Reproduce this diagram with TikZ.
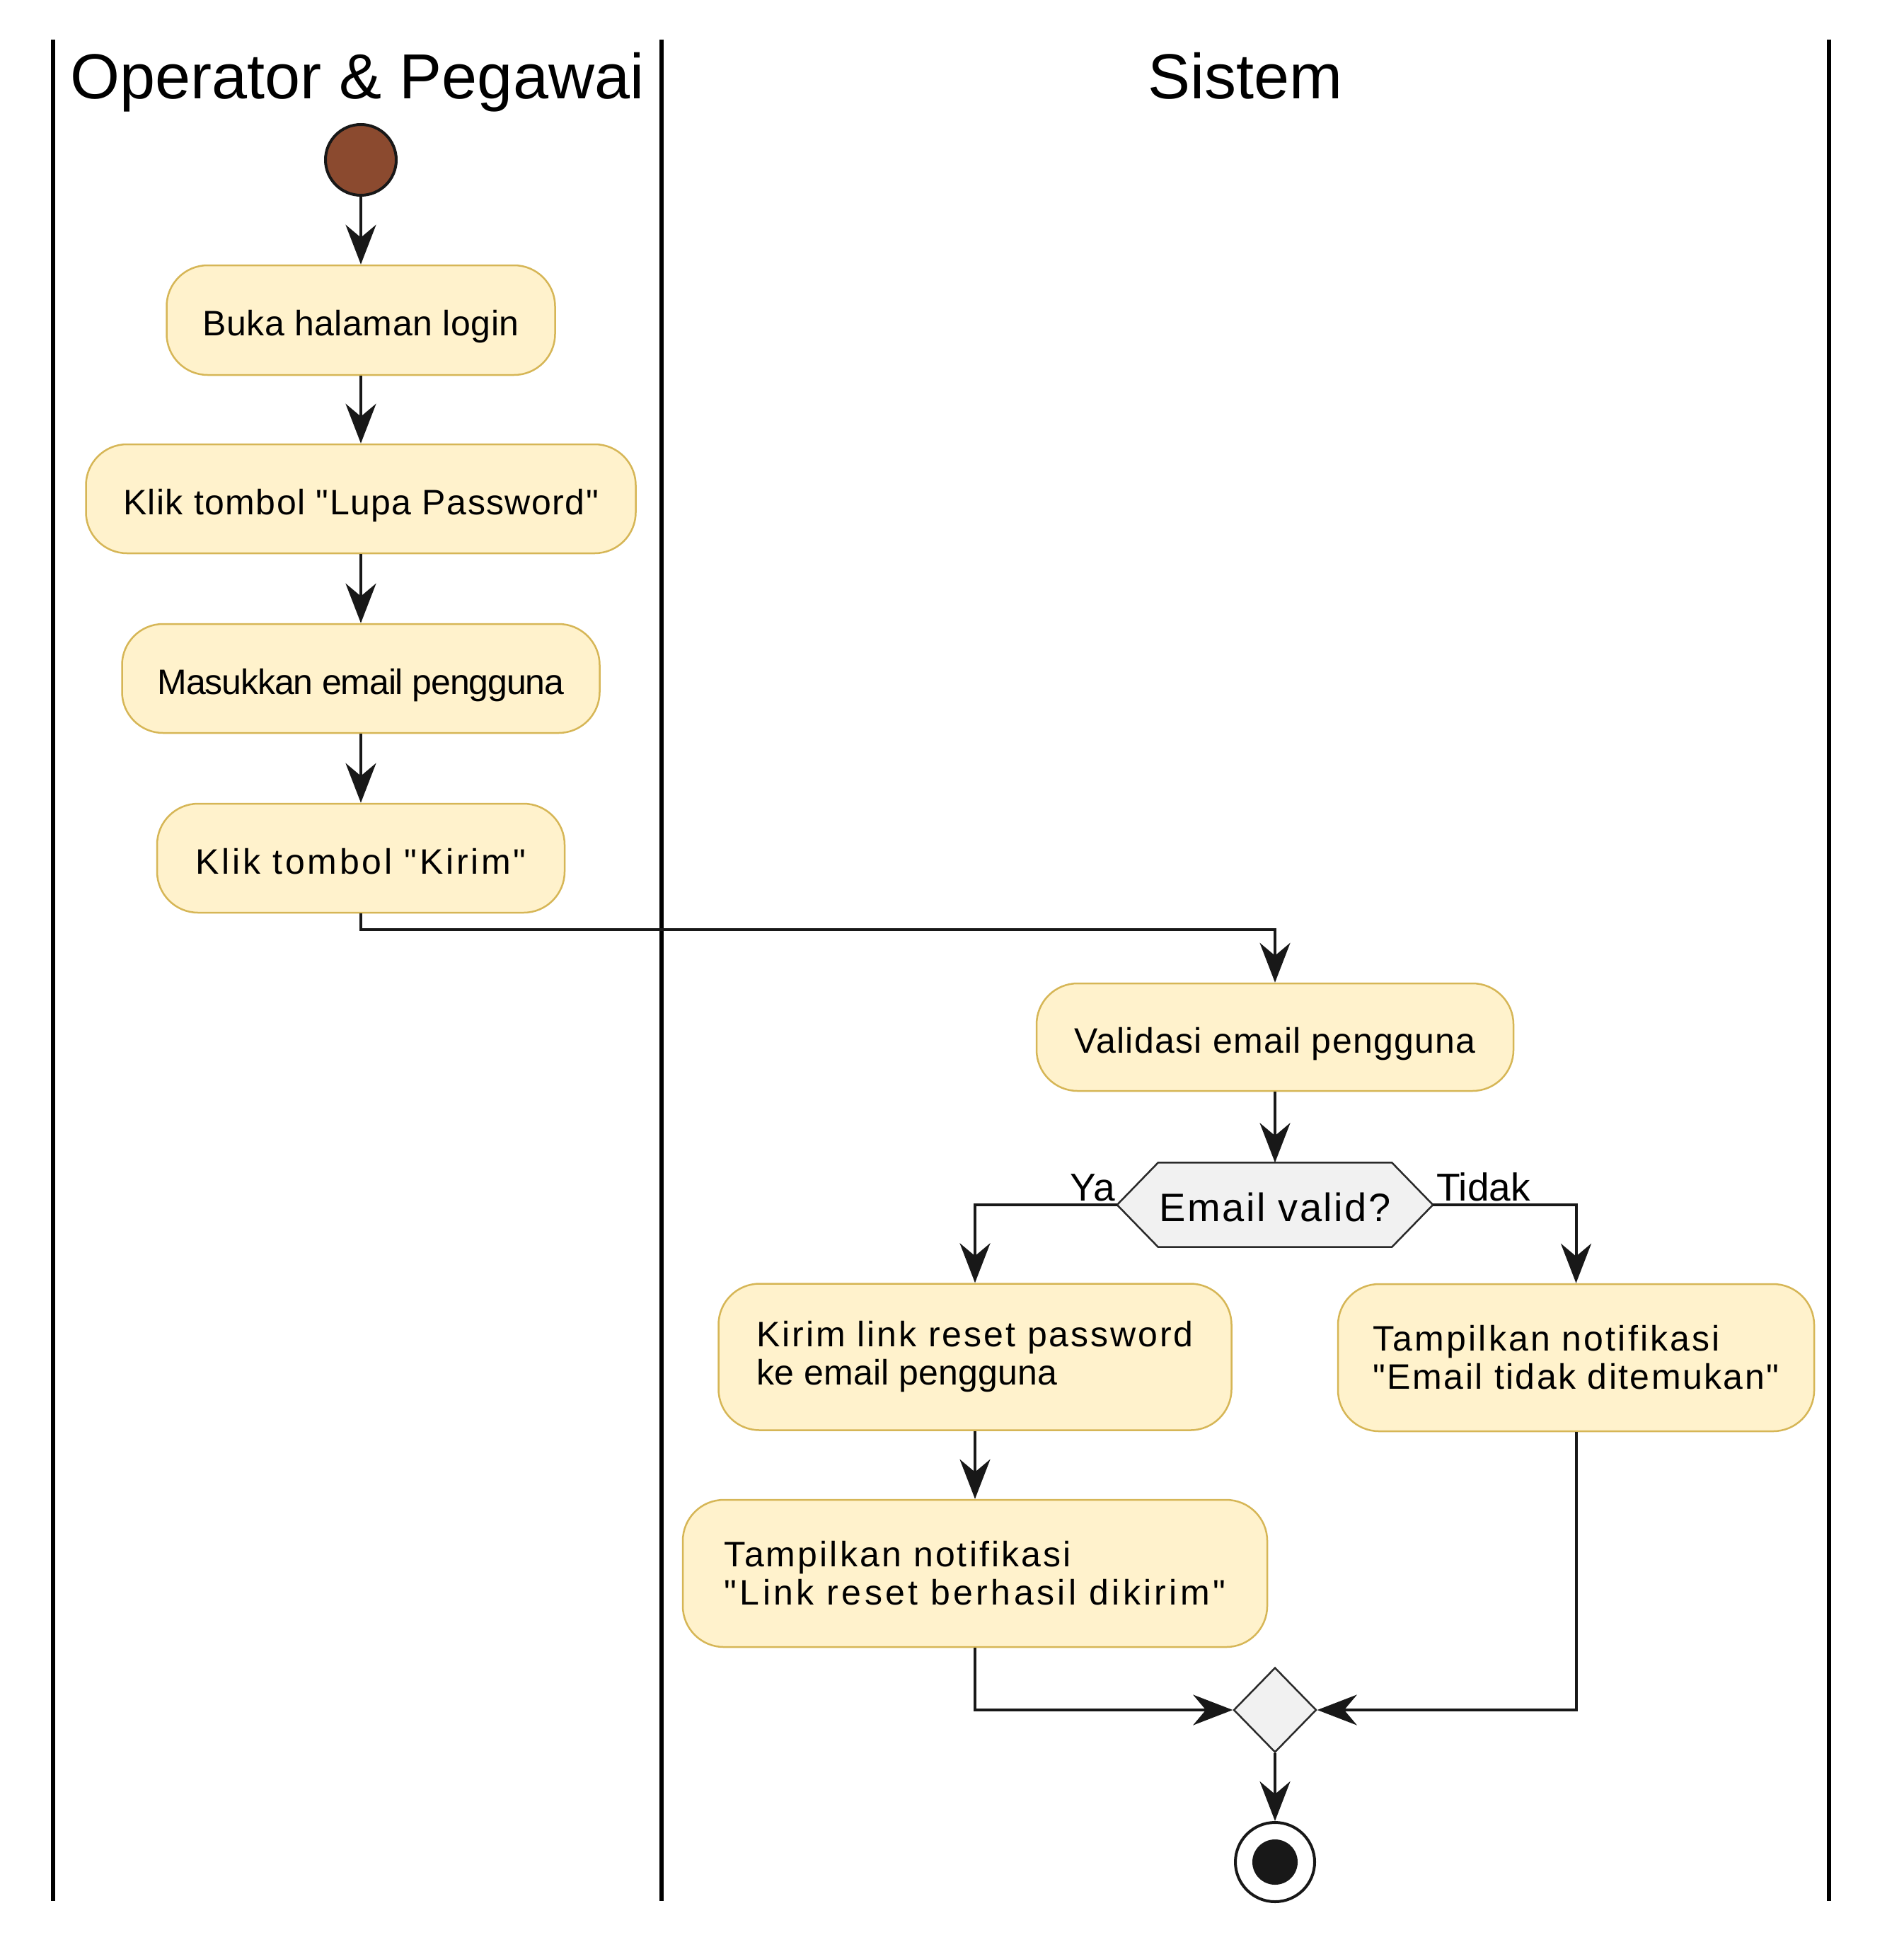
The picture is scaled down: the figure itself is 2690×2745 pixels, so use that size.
\documentclass[tikz,border=0pt]{standalone}
\usepackage{fontspec}
\setmainfont{Liberation Sans}[Ligatures=TeXOff]
\usetikzlibrary{arrows.meta,shapes.geometric}

\definecolor{actfill}{HTML}{FFF2CC}
\definecolor{actline}{HTML}{D6B656}
\definecolor{ink}{HTML}{181818}
\definecolor{startfill}{HTML}{8B4A2F}
\definecolor{gatefill}{HTML}{F1F1F1}
\definecolor{gateline}{HTML}{2A2A2A}

% letter-spaced text run
\newcommand{\spaced}[2]{{\addfontfeatures{LetterSpace=#1}#2}}
% straight double quote
\newcommand{\dq}{\char"22\relax}

\begin{document}
\begin{tikzpicture}[x=1pt,y=-1pt,
  lane/.style={draw=black, line width=5.5pt},
  lanetitle/.style={anchor=base, inner sep=0pt, font=\fontsize{90}{100}\selectfont},
  act/.style={draw=actline, fill=actfill, line width=2.5pt, rounded corners=58pt,
    inner sep=0pt, align=left, font=\fontsize{50}{54}\selectfont},
  act1/.style={act, text height=54pt, text depth=10pt},
  arr/.style={draw=ink, line width=4pt, -{Stealth[length=56pt,width=43pt,inset=18pt]}},
  guard/.style={inner sep=0pt, font=\fontsize{55}{60}\selectfont},
  gate/.style={draw=gateline, fill=gatefill, line width=2.5pt}
]
\useasboundingbox (0,0) rectangle (2690,2745);
\fill[white] (0,0) rectangle (2690,2745);

% swimlane borders
\draw[lane] (75,56) -- (75,2687);
\draw[lane] (935,56) -- (935,2687);
\draw[lane] (2585,56) -- (2585,2687);

% swimlane titles
\node[lanetitle] (lane1) at (505,140) {Operator \& Pegawai};
\node[lanetitle] (lane2) at (1760,140) {Sistem};

% start
\node[circle, draw=ink, fill=startfill, line width=4pt, minimum size=100pt, inner sep=0pt] (start) at (510,226) {};

% user actions
\node[act1, minimum width=549pt, minimum height=155pt] (b1) at (510,452.5) {\spaced{1.1}{Buka halaman login}};
\node[act1, minimum width=777pt, minimum height=154pt] (b2) at (510,705) {\spaced{2.9}{Klik tombol \dq Lupa Password\dq}};
\node[act1, minimum width=675pt, minimum height=154pt] (b3) at (510,959) {\spaced{-2.3}{Masukkan email pengguna}};
\node[act1, minimum width=576pt, minimum height=154pt] (b4) at (510,1213) {\spaced{7.4}{Klik tombol \dq Kirim\dq}};

% system actions
\node[act1, minimum width=674pt, minimum height=152pt] (b5) at (1802,1466) {\spaced{2.6}{Validasi email pengguna}};

% decision
\path node[minimum width=446pt, minimum height=119pt, inner sep=0pt] (hex) at (1802,1703) {};
\filldraw[gate] (hex.west) -- ([xshift=58pt]hex.north west) -- ([xshift=-58pt]hex.north east)
  -- (hex.east) -- ([xshift=-58pt]hex.south east) -- ([xshift=58pt]hex.south west) -- cycle;
\node[inner sep=0pt, text height=46pt, text depth=0pt, font=\fontsize{56}{60}\selectfont] (hextext) at (1802,1703) {\spaced{4.4}{Email valid?}};

\node[act, minimum width=725pt, minimum height=207pt] (b6) at (1378,1918)
  {\spaced{5.9}{Kirim link reset password}\\\spaced{0.4}{ke email pengguna}};
\node[act, minimum width=673pt, minimum height=208pt] (b7) at (2227.5,1919)
  {\spaced{6.3}{Tampilkan notifikasi}\\\spaced{4.9}{\dq Email tidak ditemukan\dq}};
\node[act, minimum width=826pt, minimum height=208pt] (b8) at (1378,2224)
  {\spaced{6.3}{Tampilkan notifikasi}\\\spaced{8.7}{\dq Link reset berhasil dikirim\dq}};

% merge and end
\node[diamond, gate, minimum width=117pt, minimum height=120pt, inner sep=0pt] (merge) at (1802,2417) {};
\node[circle, draw=ink, fill=white, line width=4pt, minimum size=112pt, inner sep=0pt] (end) at (1802,2632) {};
\node[circle, fill=ink, minimum size=64pt, inner sep=0pt] (enddot) at (end.center) {};

% branch labels
\node[guard, anchor=base east] (ya) at (1576,1697) {Ya};
\node[guard, anchor=base west] (tidak) at (2030,1697) {Tidak};

% flow
\draw[arr] (start) -- (b1);
\draw[arr] (b1) -- (b2);
\draw[arr] (b2) -- (b3);
\draw[arr] (b3) -- (b4);
\draw[arr] (b4.south) -- ++(0,23) -| (b5.north);
\draw[arr] (b5) -- (hex.north);
\draw[arr] (hex.west) -| (b6.north);
\draw[arr] (hex.east) -| (b7.north);
\draw[arr] (b6) -- (b8);
\draw[arr] (b8.south) |- (merge.west);
\draw[arr] (b7.south) |- (merge.east);
\draw[arr] (merge.south) -- (end.north);
\end{tikzpicture}
\end{document}
